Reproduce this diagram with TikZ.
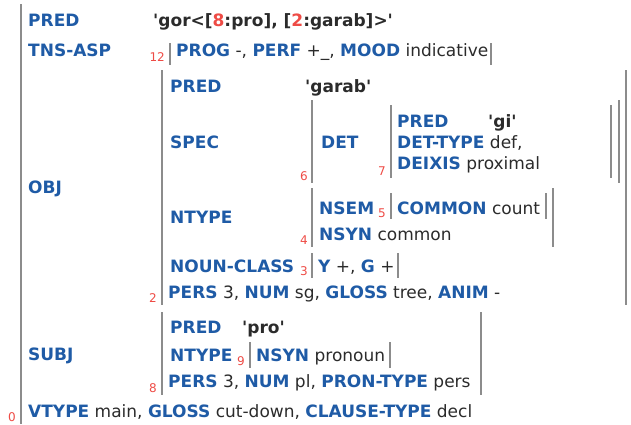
\documentclass[tikz,border=0pt]{standalone}
\usepackage{fontspec}
\newfontfamily\fvfont{DejaVu Sans}
\definecolor{fblue}{HTML}{1F5BA6}
\definecolor{fred}{HTML}{EE4B45}
\definecolor{fval}{HTML}{2B2B2B}
\definecolor{fbar}{HTML}{8C8C8C}
\newcommand\fa[1]{{\bfseries\color{fblue}#1}}
\newcommand\fq[1]{{\bfseries\color{fval}#1}}
\newcommand\fr[1]{{\color{fred}#1}}
\tikzset{
  txt/.style={anchor=base west, inner sep=0pt, font=\fvfont\fontsize{17}{20}\selectfont, text=fval},
  idx/.style={anchor=base east, inner sep=0pt, font=\fvfont\fontsize{12}{13}\selectfont, text=fred},
  fbarline/.style={draw=fbar, line width=1.5pt},
}
\begin{document}
\begin{tikzpicture}[x=1pt,y=-1pt]
\useasboundingbox (0,0) rectangle (631,424);
% outer f-structure 0
\draw[fbarline] (21,4) -- (21,424);
\node[idx] (i0) at (16,421) {0};
\node[txt] (pred0) at (28,26) {\fa{PRED}};
\node[txt] (predv0) at (153,26) {\fq{'gor<[\fr{8}:pro], [\fr{2}:garab]>'}};
\node[txt] (tns) at (28,56) {\fa{TNS-ASP}};
% TNS-ASP 12
\draw[fbarline] (170,43) -- (170,65);
\draw[fbarline] (491,43) -- (491,65);
\node[idx] (i12) at (165,61) {12};
\node[txt] (tnsv) at (176,56) {\fa{PROG} -, \fa{PERF} +\_, \fa{MOOD} indicative};
% OBJ 2
\node[txt] (obj) at (28,193) {\fa{OBJ}};
\draw[fbarline] (162,70) -- (162,305);
\draw[fbarline] (626,70) -- (626,305);
\node[idx] (i2) at (157,302) {2};
\node[txt] (opred) at (170,92) {\fa{PRED}};
\node[txt] (opredv) at (305,92) {\fq{'garab'}};
\node[txt] (spec) at (170,148) {\fa{SPEC}};
% SPEC 6
\draw[fbarline] (312,100) -- (312,183);
\draw[fbarline] (619,100) -- (619,183);
\node[idx] (i6) at (308,180) {6};
\node[txt] (det) at (321,148) {\fa{DET}};
% DET 7
\draw[fbarline] (391,105) -- (391,178);
\draw[fbarline] (611,105) -- (611,178);
\node[idx] (i7) at (386,175) {7};
\node[txt] (dpred) at (397,127) {\fa{PRED}};
\node[txt] (dpredv) at (488,127) {\fq{'gi'}};
\node[txt] (dtype) at (397,148) {\fa{DET-TYPE} def,};
\node[txt] (deix) at (397,169) {\fa{DEIXIS} proximal};
% NTYPE 4
\node[txt] (ontype) at (170,223) {\fa{NTYPE}};
\draw[fbarline] (312,188) -- (312,247);
\draw[fbarline] (553,188) -- (553,247);
\node[idx] (i4) at (308,244) {4};
\node[txt] (nsem) at (319,214) {\fa{NSEM}};
% NSEM 5
\draw[fbarline] (391,193) -- (391,219);
\draw[fbarline] (546,193) -- (546,219);
\node[idx] (i5) at (386,217) {5};
\node[txt] (common) at (397,214) {\fa{COMMON} count};
\node[txt] (nsyn) at (319,240) {\fa{NSYN} common};
% NOUN-CLASS 3
\node[txt] (ncl) at (170,272) {\fa{NOUN-CLASS}};
\draw[fbarline] (312,253) -- (312,278);
\draw[fbarline] (398,253) -- (398,278);
\node[idx] (i3) at (308,275) {3};
\node[txt] (nclv) at (318,272) {\fa{Y} +, \fa{G} +};
\node[txt] (objrest) at (168,298) {\fa{PERS} 3, \fa{NUM} sg, \fa{GLOSS} tree, \fa{ANIM} -};
% SUBJ 8
\node[txt] (subj) at (28,360) {\fa{SUBJ}};
\draw[fbarline] (162,312) -- (162,395);
\draw[fbarline] (481,312) -- (481,395);
\node[idx] (i8) at (157,392) {8};
\node[txt] (spred) at (170,333) {\fa{PRED}};
\node[txt] (spredv) at (242,333) {\fq{'pro'}};
\node[txt] (sntype) at (170,361) {\fa{NTYPE}};
% NTYPE 9
\draw[fbarline] (250,342) -- (250,368);
\draw[fbarline] (390,342) -- (390,368);
\node[idx] (i9) at (245,365) {9};
\node[txt] (snsyn) at (256,361) {\fa{NSYN} pronoun};
\node[txt] (srest) at (168,387) {\fa{PERS} 3, \fa{NUM} pl, \fa{PRON-TYPE} pers};
\node[txt] (vtype) at (28,417) {\fa{VTYPE} main, \fa{GLOSS} cut-down, \fa{CLAUSE-TYPE} decl};
\end{tikzpicture}
\end{document}
